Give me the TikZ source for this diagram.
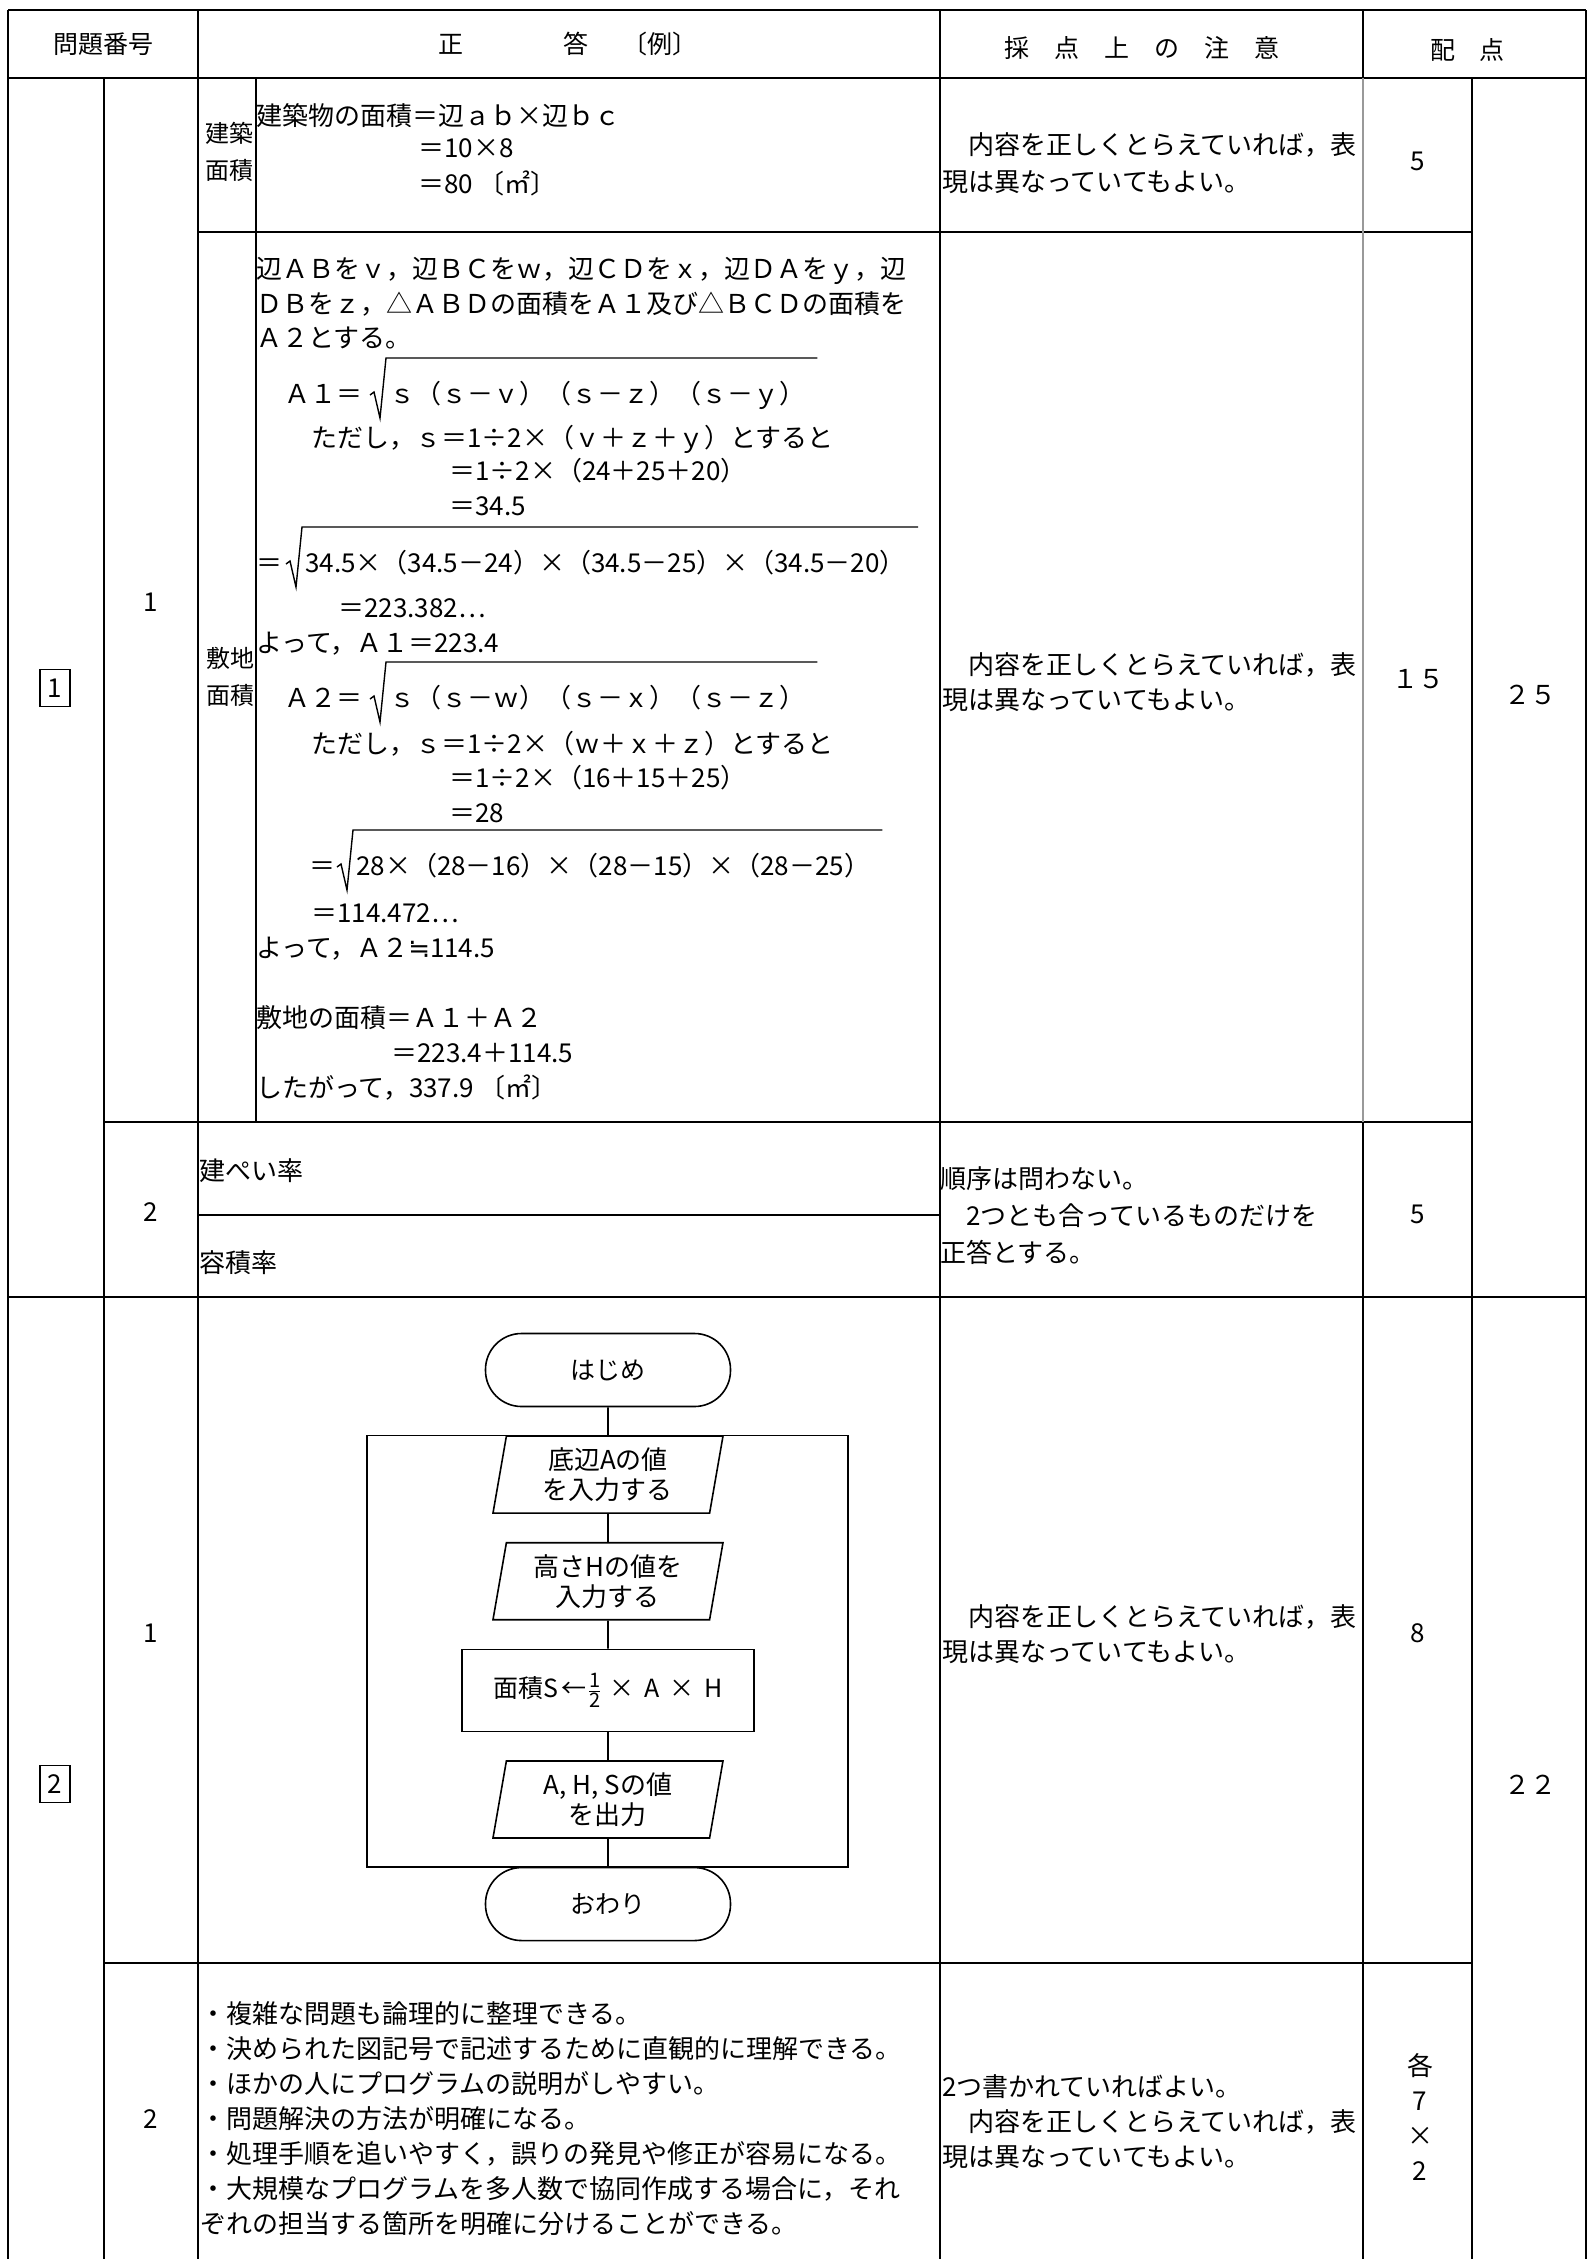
\documentclass[tikz,border=0pt]{standalone}
\usepackage{amsmath}
\usepackage{fontspec}
\setmainfont{Noto Sans CJK JP}
\newfontfamily\symfont{DejaVu Sans}
\usetikzlibrary{arrows.meta, positioning, shapes.geometric, calc}

\newcommand{\rootsign}[1]{\draw[line width=1.4pt, line join=miter] ($(#1.west)+(-19pt,-2pt)$) -- ($(#1.west)+(-15pt,1pt)$) -- ($(#1.west)+(-9pt,-25pt)$) -- ($(#1.west)+(-3pt,35pt)$) -- ($(#1.east)+(12pt,35pt)$);}

\begin{document}
\begin{tikzpicture}[
    x=1pt, y=-1pt,
    node distance=28pt,
    >=Latex,
    rule/.style={line width=2.4pt},
    vrule/.style={line width=1.8pt},
    txt/.style={anchor=west, inner sep=0pt, text height=23pt, text depth=3pt, font=\fontsize{26pt}{35pt}\selectfont},
    lab/.style={inner sep=0pt, text height=21pt, text depth=3pt, font=\fontsize{24pt}{30pt}\selectfont},
    para/.style={anchor=north west, inner sep=0pt, align=left, font=\fontsize{26pt}{35pt}\selectfont},
    hd/.style={inner sep=0pt, font=\fontsize{25pt}{30pt}\selectfont},
    pts/.style={inner sep=0pt, align=center, font=\fontsize{26pt}{35pt}\selectfont},
    numbox/.style={draw, line width=1.5pt, minimum width=30pt, minimum height=37pt, inner sep=0pt, font=\fontsize{26pt}{30pt}\selectfont},
    term/.style={rectangle, rounded corners=36pt, draw, line width=1.6pt, minimum width=245pt, minimum height=73pt, font=\fontsize{25pt}{29pt}\selectfont},
    io/.style={trapezium, trapezium left angle=77, trapezium right angle=103, trapezium stretches body=true, draw, line width=1.6pt, minimum width=230pt, minimum height=77pt, align=center, inner sep=2pt, font=\fontsize{26pt}{30pt}\selectfont},
    proc/.style={rectangle, draw, line width=1.6pt, minimum width=292pt, minimum height=82pt, font=\fontsize{25pt}{29pt}\selectfont},
    flow/.style={line width=1.6pt}
  ]
    \useasboundingbox (0,0) rectangle (1591,2259);

    \draw[rule] (8,10) -- (1586,10);
    \draw[rule] (8,78) -- (1586,78);
    \draw[rule] (198,232) -- (1472,232);
    \draw[rule] (104,1122) -- (1472,1122);
    \draw[rule] (198,1215) -- (940,1215);
    \draw[rule] (8,1297) -- (1586,1297);
    \draw[rule] (104,1963) -- (1472,1963);
    \foreach \x in {8,198,940,1586}
      \draw[vrule] (\x,10) -- (\x,2259);
    \foreach \x in {104,1472}
      \draw[vrule] (\x,78) -- (\x,2259);
    \draw[vrule] (256,78) -- (256,1122);
    \draw[vrule] (1363,10) -- (1363,78);
    \draw[vrule, black!40] (1363,78) -- (1363,1122);
    \draw[vrule] (1363,1122) -- (1363,2259);

    \node[hd] (hnum) at (103,44) {問題番号};
    \node[hd] (hans) at (451,44) {正};
    \node[hd] (hans2) at (576,44) {答};
    \node[hd] (hans3) at (660,44) {〔例〕};
    \node[hd] (hnote) at (1142,48) {採\hspace{25pt}点\hspace{25pt}上\hspace{25pt}の\hspace{25pt}注\hspace{25pt}意};
    \node[hd] (hpts) at (1467,50) {配\hspace{24pt}点};

    \node[numbox] (secone) at (55,688) {1};
    \node[pts] (qone) at (151,602) {1};
    \node[pts] (qtwo) at (151,1212) {2};
    \node[pts] (tone) at (1530,695) {２５};

    \node[lab] (blab1) at (229,133) {建築};
    \node[lab] (blab2) at (229,170) {面積};
    \node[txt] (bform) at (256,115) {建築物の面積＝辺ａｂ×辺ｂｃ};
    \node[txt] (bcalc) at (418,147) {＝10×8};
    \node[txt] (bres) at (418,183) {＝80 〔㎡〕};
    \node[para, font=\fontsize{26pt}{37pt}\selectfont] (bnote) at (942,132) {　内容を正しくとらえていれば，表\\現は異なっていてもよい。};
    \node[pts] (bpts) at (1418,161) {5};

    \node[lab] (slab1) at (230,658) {敷地};
    \node[lab] (slab2) at (230,695) {面積};
    \node[txt] (sdef1) at (256,268) {辺ＡＢをｖ，辺ＢＣをｗ，辺ＣＤをｘ，辺ＤＡをｙ，辺};
    \node[txt] (sdef2) at (256,303) {ＤＢをｚ，△ＡＢＤの面積をＡ１及び△ＢＣＤの面積を};
    \node[txt] (sdef3) at (256,337) {Ａ２とする。};
    \node[txt] (aone) at (284,393) {Ａ１＝};
    \node[txt] (aonerad) at (389,393) {ｓ（ｓ－ｖ）（ｓ－ｚ）（ｓ－ｙ）};
    \node[txt] (sone) at (311,437) {ただし，ｓ＝1÷2×（ｖ＋ｚ＋ｙ）とすると};
    \node[txt] (sone2) at (449,470) {＝1÷2×（24＋25＋20）};
    \node[txt] (sone3) at (449,505) {＝34.5};
    \node[txt] (aoneeq) at (256,562) {＝};
    \node[txt] (aonenum) at (305,562) {34.5×（34.5－24）×（34.5－25）×（34.5－20）};
    \node[txt] (aoneval) at (338,607) {＝223.382…};
    \node[txt] (aoneres) at (256,642) {よって，Ａ１＝223.4};
    \node[txt] (atwo) at (284,697) {Ａ２＝};
    \node[txt] (atworad) at (389,697) {ｓ（ｓ－ｗ）（ｓ－ｘ）（ｓ－ｚ）};
    \node[txt] (stwo) at (311,743) {ただし，ｓ＝1÷2×（ｗ＋ｘ＋ｚ）とすると};
    \node[txt] (stwo2) at (449,777) {＝1÷2×（16＋15＋25）};
    \node[txt] (stwo3) at (449,812) {＝28};
    \node[txt] (atwoeq) at (309,865) {＝};
    \node[txt] (atwonum) at (356,865) {28×（28－16）×（28－15）×（28－25）};
    \node[txt] (atwoval) at (311,912) {＝114.472…};
    \node[txt] (atwores) at (256,947) {よって，Ａ２{\symfont ≒}114.5};
    \node[txt] (ssum) at (256,1017) {敷地の面積＝Ａ１＋Ａ２};
    \node[txt] (ssum2) at (391,1052) {＝223.4＋114.5};
    \node[txt] (ssum3) at (256,1087) {したがって，337.9 〔㎡〕};
    \rootsign{aonerad}
    \rootsign{aonenum}
    \rootsign{atworad}
    \rootsign{atwonum}
    \node[para] (snote) at (942,652) {　内容を正しくとらえていれば，表\\現は異なっていてもよい。};
    \node[pts] (spts) at (1418,679) {１５};

    \node[txt] (bcr) at (199,1170) {建ぺい率};
    \node[txt] (far) at (199,1262) {容積率};
    \node[para, font=\fontsize{26pt}{37pt}\selectfont] (rnote) at (940,1166) {順序は問わない。\\　2つとも合っているものだけを\\正答とする。};
    \node[pts] (rpts) at (1418,1214) {5};

    \node[numbox] (sectwo) at (55,1784) {2};
    \node[pts] (ttwo) at (1530,1785) {２２};
    \node[pts] (qthree) at (151,1633) {1};
    \node[pts] (qfour) at (151,2119) {2};

    \node[term] (start) at (608,1370) {はじめ};
    \node[io, below=of start] (inbase) {底辺Aの値\\を入力する};
    \node[io, below=of inbase] (inheight) {高さHの値を\\入力する};
    \node[proc, below=of inheight] (area) {面積S\hspace{3pt}←\hspace{2pt}$\frac{\mbox{\fontsize{20pt}{20pt}\selectfont 1}}{\mbox{\fontsize{20pt}{20pt}\selectfont 2}}$\hspace{8pt}×\hspace{10pt}A\hspace{10pt}×\hspace{10pt}H};
    \node[io, below=of area] (output) {A, H, Sの値\\を出力};
    \node[term, below=of output] (stop) {おわり};
    \draw[flow] (start) -- (inbase);
    \draw[flow] (inbase) -- (inheight);
    \draw[flow] (inheight) -- (area);
    \draw[flow] (area) -- (output);
    \draw[flow] (output) -- (stop);
    \draw[flow] ($(inbase.north)+(-241pt,0pt)$) rectangle ($(stop.north)+(240pt,0pt)$);
    \node[para] (fnote) at (942,1604) {　内容を正しくとらえていれば，表\\現は異なっていてもよい。};
    \node[pts] (fpts) at (1418,1633) {8};

    \node[para] (merits) at (200,2001) {・複雑な問題も論理的に整理できる。\\・決められた図記号で記述するために直観的に理解できる。\\・ほかの人にプログラムの説明がしやすい。\\・問題解決の方法が明確になる。\\・処理手順を追いやすく，誤りの発見や修正が容易になる。\\・大規模なプログラムを多人数で協同作成する場合に，それ\\ぞれの担当する箇所を明確に分けることができる。};
    \node[para] (mnote) at (942,2074) {2つ書かれていればよい。\\　内容を正しくとらえていれば，表\\現は異なっていてもよい。};
    \node[pts] (mpts) at (1420,2117) {各\\7\\×\\2};
  \end{tikzpicture}
\end{document}
